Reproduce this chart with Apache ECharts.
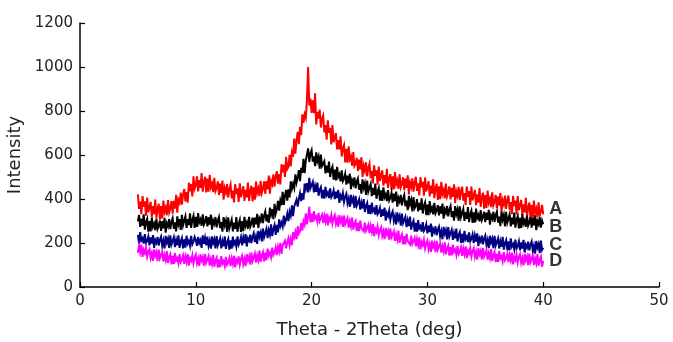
<!DOCTYPE html>
<html>
<head>
<meta charset="utf-8">
<script src="https://cdn.jsdelivr.net/npm/echarts@6/dist/echarts.min.js"></script>
<style>html,body{margin:0;padding:0;background:#fff}#c{width:673px;height:342px}</style>
</head>
<body>
<div id="c"></div>
<script>
// sampling grid (deg): first angle and step of the recorded scans
const xStart = 5;
const xStep = 0.1;

// Sample A (red), every 0.1 deg from 5 to 40 (one row per degree)
const seriesA = [
421,355,388,331,413,365,389,324,406,340,
346,387,318,368,331,398,312,357,378,306,
368,312,393,341,361,326,395,339,357,391,
333,392,356,419,338,397,383,429,374,420,
446,389,431,383,474,435,468,412,503,446,
461,503,435,486,450,518,433,479,501,430,
493,433,510,454,470,431,496,436,450,480,
418,470,428,484,397,449,429,468,407,446,
466,403,438,384,468,423,449,387,471,408,
416,458,391,442,407,475,391,437,460,389,
453,397,479,427,448,413,483,427,446,480,
423,481,444,506,424,482,467,512,456,501,
526,470,513,466,558,521,555,500,592,536,
546,601,548,612,592,675,606,667,705,649,
728,690,785,746,785,768,851,1000,825,857,
791,848,790,880,739,796,765,806,725,766,
780,703,736,670,758,701,724,648,736,658,
666,700,625,668,625,685,593,631,646,566,
628,565,639,580,594,551,613,550,561,587,
528,579,535,590,500,551,529,567,503,541,
561,495,528,471,553,506,530,465,547,482,
491,530,461,509,471,537,450,493,513,440,
503,444,522,467,484,446,512,453,468,499,
440,493,451,508,421,474,454,494,433,473,
501,437,471,416,499,453,478,415,498,434,
441,481,412,461,424,490,404,448,469,396,
458,399,478,423,441,403,470,411,427,458,
398,451,410,467,381,434,415,455,395,435,
456,392,427,372,456,410,436,373,457,393,
401,441,372,421,384,450,364,408,429,356,
418,359,438,383,401,363,430,371,387,418,
358,411,370,427,341,394,375,415,355,395,
416,352,386,331,414,368,393,330,413,349,
356,396,327,376,339,405,319,363,384,311,
373,314,393,338,356,318,385,326,342,373,
330
];
// Sample B (black)
const seriesB = [
298,328,273,310,279,330,261,295,310,252,
299,253,316,273,287,258,310,264,277,302,
255,299,267,314,247,290,276,309,263,296,
313,265,294,253,321,286,309,260,328,280,
288,321,269,309,281,335,269,306,324,269,
319,273,336,293,307,278,330,284,297,322,
275,317,284,329,261,302,287,318,271,302,
318,268,295,252,318,281,302,251,317,267,
273,306,253,293,264,318,251,288,305,250,
299,254,319,277,293,265,319,274,289,315,
270,315,285,333,268,312,300,334,290,324,
343,298,329,291,361,329,354,308,378,333,
353,392,347,393,372,432,373,416,441,392,
444,407,480,446,470,450,512,475,498,531,
481,542,518,583,518,576,570,630,568,607,
622,570,594,549,612,573,592,538,602,550,
543,572,516,552,520,570,500,533,547,488,
534,485,546,500,512,480,530,481,492,514,
465,506,471,515,445,485,468,498,449,479,
493,442,468,424,489,451,471,419,484,433,
438,468,413,450,419,470,401,435,450,392,
439,391,453,408,421,390,441,393,405,428,
383,424,390,434,365,405,389,419,371,401,
418,367,393,349,414,376,396,344,409,358,
368,399,344,382,351,403,334,369,384,327,
374,327,390,346,360,330,382,335,348,372,
325,367,334,379,311,352,337,368,321,352,
368,318,345,302,368,331,352,301,367,317,
323,355,301,340,310,363,295,331,347,291,
339,293,356,313,327,298,350,304,317,342,
295,338,305,351,283,325,310,342,295,327,
343,293,320,277,343,306,327,276,342,292,
298,330,276,315,285,338,270,306,322,266,
314,268,331,288,302,273,325,279,292,317,
270,313,280,326,258,300,285,317,270,302,
285
];
// Sample C (navy)
const seriesC = [
237,197,249,212,222,197,240,200,210,230,
189,225,197,236,178,214,201,228,188,215,
229,187,211,175,232,202,220,178,235,193,
199,226,181,214,190,235,178,208,223,175,
217,179,233,198,210,187,232,194,206,228,
214,187,227,200,213,178,235,196,224,189,
229,187,210,174,230,200,217,175,231,189,
194,221,176,209,185,230,173,203,218,170,
212,174,229,194,207,184,230,192,205,227,
189,226,200,240,184,221,210,238,200,228,
244,204,230,196,255,227,247,207,266,226,
234,264,222,258,237,285,231,264,282,237,
282,248,307,276,293,274,324,290,307,333,
299,343,324,371,322,366,362,397,366,401,
426,390,427,397,470,445,472,430,496,449,
454,478,430,460,433,475,415,442,454,403,
442,402,455,418,429,404,448,408,419,439,
399,433,404,441,382,416,402,427,386,411,
424,380,402,364,419,387,403,359,414,370,
374,399,352,383,357,400,341,369,382,332,
372,331,383,345,355,329,372,331,341,360,
319,353,324,361,302,336,322,347,306,331,
344,300,322,284,339,307,323,279,334,290,
294,319,272,303,277,320,261,289,302,252,
292,252,304,267,277,252,295,255,265,285,
244,279,250,288,229,264,250,276,235,261,
274,231,254,217,273,242,259,216,272,229,
234,260,214,246,221,265,207,236,250,201,
242,202,255,218,229,204,248,208,219,239,
199,234,206,244,186,221,208,234,194,220,
234,191,214,177,233,202,219,176,232,189,
194,221,175,208,183,228,170,200,214,166,
207,167,221,184,195,171,215,175,186,207,
167,203,175,214,156,192,179,206,166,193,
207,165,188,152,209,179,196,154,211,168,
178
];
// Sample D (magenta)
const seriesD = [
155,187,159,193,137,169,154,178,138,161,
172,132,154,119,171,142,158,118,170,130,
134,159,116,145,122,163,109,136,149,103,
141,105,154,121,131,108,149,113,123,143,
105,139,114,150,97,131,119,145,108,133,
147,108,130,96,148,120,136,97,149,110,
114,140,97,127,104,146,92,120,133,88,
126,90,140,107,118,95,137,101,112,132,
95,130,105,142,89,124,112,139,102,128,
142,104,128,95,149,122,140,102,156,118,
124,152,111,143,122,166,114,144,159,116,
156,122,174,143,156,135,179,145,158,180,
145,183,161,201,151,189,180,210,176,205,
222,189,218,190,249,227,250,217,276,243,
254,291,256,299,283,335,285,321,365,294,
333,296,345,310,320,296,337,300,309,328,
290,324,298,334,280,314,301,327,289,314,
327,287,309,274,326,297,313,273,325,285,
289,314,270,299,275,316,261,288,300,254,
291,254,302,268,277,253,293,256,265,284,
245,278,251,286,231,264,250,275,236,260,
272,232,253,218,269,240,255,215,266,226,
229,254,210,239,215,256,201,228,240,194,
231,194,242,208,217,193,233,196,205,224,
185,218,191,226,171,204,190,215,176,200,
212,172,194,159,211,182,198,158,210,170,
174,199,156,185,162,203,149,176,189,143,
181,144,193,160,170,146,187,150,161,180,
142,175,150,185,131,165,152,177,139,164,
177,137,160,125,177,149,165,125,177,138,
142,167,124,154,131,172,118,145,159,113,
151,114,164,130,140,117,158,121,131,151,
113,146,121,156,103,136,123,149,111,136,
149,110,132,98,150,122,139,99,152,112,
117,143,100,130,108,150,96,124,138,92,
118
];

const sampleNames = ['A', 'B', 'C', 'D'];
const sampleColors = ['#ff0000', '#000000', '#000080', '#ff00ff'];
// where the letter tags sit (intensity at the right end, x = 40)
const tagX = 40;
const tagY = [355, 274, 192, 118];

const xTicks = [0, 10, 20, 30, 40, 50];
const yTicks = [0, 200, 400, 600, 800, 1000, 1200];

function toPairs(vals) {
  return vals.map((v, i) => [+(xStart + i * xStep).toFixed(2), v]);
}

const allSeries = [seriesA, seriesB, seriesC, seriesD];
const lineSeries = allSeries.map((vals, k) => ({
  name: sampleNames[k],
  type: 'line',
  data: toPairs(vals),
  showSymbol: false,
  symbol: 'none',
  sampling: null,
  lineStyle: { color: sampleColors[k], width: 2, join: 'miter', miterLimit: 6 },
  itemStyle: { color: sampleColors[k] },
  z: 2 + k
}));

const tagSeries = {
  type: 'scatter',
  symbolSize: 0,
  itemStyle: { color: 'transparent' },
  data: tagY.map((y, k) => ({ value: [tagX, y], name: sampleNames[k] })),
  label: {
    show: true,
    position: 'right',
    distance: 6,
    formatter: p => p.name,
    color: '#000',
    fontFamily: 'Liberation Sans',
    fontWeight: 'bold',
    fontSize: 18
  },
  z: 10
};

const font = 'DejaVu Sans';
const chart = echarts.init(document.getElementById('c'), null, { renderer: 'canvas' });
chart.setOption({
  animation: false,
  backgroundColor: '#fff',
  grid: { left: 80, right: 14, top: 23, bottom: 55, containLabel: false, outerBoundsMode: 'none' },
  xAxis: {
    type: 'value',
    min: xTicks[0], max: xTicks[xTicks.length - 1], interval: 10,
    name: 'Theta - 2Theta (deg)',
    nameLocation: 'middle',
    nameGap: 34,
    nameTextStyle: { fontFamily: font, fontSize: 18, color: '#222' },
    axisLine: { onZero: false, lineStyle: { color: '#000', width: 1.5 } },
    axisTick: { inside: true, length: 5, lineStyle: { color: '#000', width: 1.2 } },
    axisLabel: { fontFamily: font, fontSize: 15, color: '#222', margin: 7, formatter: v => String(v) },
    splitLine: { show: false }
  },
  yAxis: {
    type: 'value',
    min: yTicks[0], max: yTicks[yTicks.length - 1], interval: 200,
    name: 'Intensity',
    nameLocation: 'middle',
    nameGap: 34,
    nameTextStyle: { fontFamily: font, fontSize: 18, color: '#222' },
    axisLine: { show: true, lineStyle: { color: '#000', width: 1.5 } },
    axisTick: { show: true, inside: true, length: 5, lineStyle: { color: '#000', width: 1.2 } },
    axisLabel: { fontFamily: font, fontSize: 15, color: '#222', margin: 7, formatter: v => String(v) },
    splitLine: { show: false }
  },
  series: [...lineSeries, tagSeries]
});
</script>
</body>
</html>
